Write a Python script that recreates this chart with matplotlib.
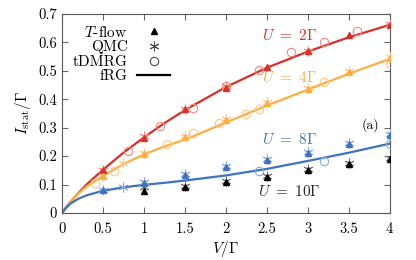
import matplotlib
matplotlib.use('Agg')
import matplotlib.pyplot as plt
import numpy as np

plt.rcParams['font.family'] = 'serif'
plt.rcParams['font.serif'] = ['cmr10', 'DejaVu Serif']
plt.rcParams['mathtext.fontset'] = 'cm'
plt.rcParams['axes.formatter.use_mathtext'] = True

ROJO = '#d73027'
NARANJA = '#fdae3f'
AZUL = '#3d73bd'
NEGRO = 'black'

# fRG (lineas)
v_frg = [0, 0.05, 0.1, 0.2, 0.3, 0.5, 0.75, 1.0, 1.25, 1.5, 2.0, 2.5, 3.0, 3.5, 4.0]
frg_u2 = [0, 0.02, 0.037, 0.07, 0.1, 0.152, 0.212, 0.266, 0.316, 0.362, 0.443, 0.511, 0.568, 0.618, 0.662]
frg_u4 = [0, 0.02, 0.037, 0.068, 0.093, 0.13, 0.172, 0.206, 0.234, 0.258, 0.318, 0.378, 0.434, 0.49, 0.542]
frg_u8 = [0, 0.018, 0.032, 0.05, 0.062, 0.078, 0.09, 0.099, 0.106, 0.114, 0.132, 0.155, 0.183, 0.212, 0.244]

# T-flow (triangulos)
v_tflow = [0.5, 1.0, 1.5, 2.0, 2.5, 3.0, 3.5, 4.0]
tflow_u2 = [0.15, 0.265, 0.365, 0.44, 0.513, 0.57, 0.626, 0.662]
tflow_u4 = [0.13, 0.208, 0.267, 0.327, 0.387, 0.436, 0.496, 0.545]
tflow_u8 = [0.08, 0.104, 0.134, 0.162, 0.186, 0.211, 0.243, 0.274]
v_tflow10 = [1.0, 1.5, 2.0, 2.5, 3.0, 3.5, 4.0]
tflow_u10 = [0.076, 0.092, 0.109, 0.127, 0.151, 0.173, 0.19]

# QMC (asteriscos)
v_qmc2 = [0.5, 1.0, 1.5, 2.0, 3.0, 4.0]
qmc_u2 = [0.15, 0.27, 0.365, 0.445, 0.57, 0.665]
v_qmc4 = [0.5, 0.75, 1.0, 1.5, 2.0, 2.5, 3.0, 3.5, 4.0]
qmc_u4 = [0.13, 0.175, 0.21, 0.27, 0.33, 0.39, 0.44, 0.5, 0.55]
v_qmc8 = [0.5, 0.75, 1.0, 1.5, 2.0, 2.5, 3.0, 3.5, 4.0]
qmc_u8 = [0.08, 0.093, 0.11, 0.137, 0.165, 0.19, 0.215, 0.245, 0.277]
v_qmc10 = [1.0, 1.5, 2.0, 2.5, 3.0, 3.5, 4.0]
qmc_u10 = [0.09, 0.095, 0.112, 0.13, 0.153, 0.175, 0.192]

# tDMRG (circulos)
v_dmrg2 = [0.8, 1.2, 1.6, 2.0, 2.4, 2.8, 3.2, 3.6]
dmrg_u2 = [0.218, 0.306, 0.37, 0.445, 0.503, 0.566, 0.6, 0.64]
v_dmrg4 = [0.4, 0.64, 1.28, 1.6, 1.92, 2.24, 2.4, 3.2, 4.0]
dmrg_u4 = [0.105, 0.148, 0.242, 0.28, 0.316, 0.348, 0.366, 0.46, 0.527]
v_dmrg8 = [2.4, 3.2, 4.0]
dmrg_u8 = [0.148, 0.183, 0.243]

fig = plt.figure(figsize=(4.16, 2.6), dpi=100)
ax = fig.add_axes([0.149, 0.181, 0.788, 0.765])

series = [
    (frg_u2, v_tflow, tflow_u2, v_qmc2, qmc_u2, v_dmrg2, dmrg_u2, ROJO, '#f08a80'),
    (frg_u4, v_tflow, tflow_u4, v_qmc4, qmc_u4, v_dmrg4, dmrg_u4, NARANJA, '#fdc77d'),
    (frg_u8, v_tflow, tflow_u8, v_qmc8, qmc_u8, v_dmrg8, dmrg_u8, AZUL, '#86a8dc'),
]
for frg, vt, it, vq, iq, vd, idm, col, claro in series:
    ax.plot(v_frg, frg, '-', color=col, lw=1.6, zorder=2)
    ax.plot(vq, iq, ls='none', marker=(6, 2, 0), ms=7, mew=0.7, color=claro, zorder=3)
    ax.plot(vd, idm, ls='none', marker='o', ms=6, mfc='none', mew=0.8, color=claro, zorder=3)
    ax.plot(vt, it, ls='none', marker='^', ms=5, color=col, zorder=4)

ax.plot(v_qmc10, qmc_u10, ls='none', marker=(6, 2, 0), ms=7, mew=0.7, color='0.45', zorder=3)
ax.plot(v_tflow10, tflow_u10, ls='none', marker='^', ms=5, color=NEGRO, zorder=4)

# leyenda
h1, = ax.plot([], [], ls='none', marker='^', ms=5, color='black')
h2, = ax.plot([], [], ls='none', marker=(6, 2, 0), ms=7, mew=0.7, color='0.3')
h3, = ax.plot([], [], ls='none', marker='o', ms=6, mfc='none', mew=0.8, color='0.3')
h4, = ax.plot([], [], '-', color='black', lw=1.6)
ax.legend([h1, h2, h3, h4], [r'$T$-flow', 'QMC', 'tDMRG', 'fRG'], loc='upper left',
          bbox_to_anchor=(0.0, 1.0), markerfirst=False, frameon=False, fontsize=11,
          handlelength=2.2, labelspacing=0.05, handletextpad=0.6, borderaxespad=0.3)

ax.text(2.78, 0.626, r'$U\ =\ 2\Gamma$', color=ROJO, fontsize=11, ha='center', va='center')
ax.text(2.78, 0.475, r'$U\ =\ 4\Gamma$', color=NARANJA, fontsize=11, ha='center', va='center')
ax.text(2.78, 0.257, r'$U\ =\ 8\Gamma$', color=AZUL, fontsize=11, ha='center', va='center')
ax.text(2.78, 0.074, r'$U\ =\ 10\Gamma$', color='0.15', fontsize=11, ha='center', va='center')
ax.text(3.76, 0.31, '(a)', fontsize=10, ha='center', va='center')

ax.set_xlim(0, 4)
ax.set_ylim(0, 0.7)
ax.set_xticks([0, 0.5, 1, 1.5, 2, 2.5, 3, 3.5, 4])
ax.set_xticklabels(['0', '0.5', '1', '1.5', '2', '2.5', '3', '3.5', '4'])
ax.set_yticks([0, 0.1, 0.2, 0.3, 0.4, 0.5, 0.6, 0.7])
ax.set_yticklabels(['0', '0.1', '0.2', '0.3', '0.4', '0.5', '0.6', '0.7'])
ax.tick_params(direction='in', top=True, right=True, labelsize=10.5, length=4, color='0.4')
ax.tick_params(axis='x', pad=7)
for s in ax.spines.values():
    s.set_color('0.35')
ax.set_xlabel(r'$V/\Gamma$', fontsize=11, labelpad=2)
ax.set_ylabel(r'$I_{\mathrm{stat}}/\Gamma$', fontsize=11, labelpad=4)

fig.savefig('out.png', dpi=100)
